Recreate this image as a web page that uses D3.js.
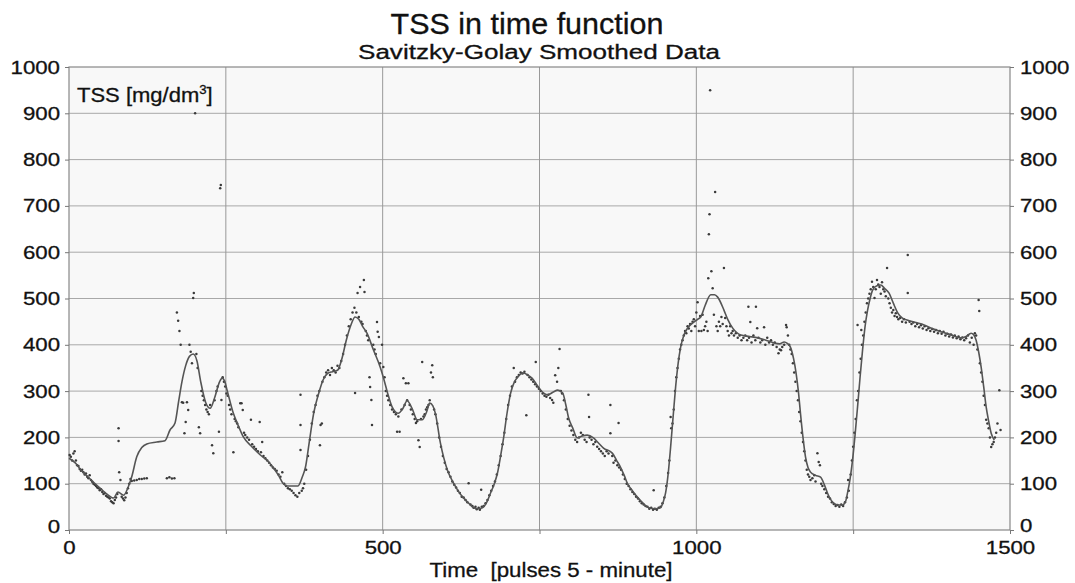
<!DOCTYPE html>
<html>
<head>
<meta charset="utf-8">
<script src="https://cdn.jsdelivr.net/npm/d3@7"></script>
<style>
  body { margin: 0; background: #fff; }
  svg { display: block; font-family: "Liberation Sans", Arial, sans-serif; }
</style>
</head>
<body>
<div id="chart"></div>
<script>
// Savitzky-Golay smoothed curve, [time, TSS]
const smoothed = [
  [0,155],[10,145],[20,128],[30,115],[40,102],[50,90],[60,78],[71,69],[78,82],[87,75],[95,95],[100,115],
  [108,158],[116,178],[124,186],[140,190],[153,193],[161,216],[169,231],[175,280],[180,320],[186,355],
  [192,375],[198,380],[204,365],[210,320],[218,275],[225,263],[232,285],[240,320],[244,328],[248,322],
  [252,302],[262,252],[270,225],[278,201],[290,182],[305,162],[316,150],[326,134],[334,118],[341,101],
  [348,95],[365,95],[372,115],[377,136],[383,190],[390,252],[398,295],[405,324],[412,338],[420,342],
  [428,345],[435,370],[442,410],[450,445],[456,460],[462,455],[468,440],[475,425],[485,390],[496,352],
  [501,330],[508,295],[515,266],[525,252],[532,262],[539,279],[547,262],[555,238],[563,238],[570,255],
  [575,274],[580,268],[584,252],[592,188],[603,130],[613,101],[620,85],[629,69],[637,58],[645,48],
  [652,46],[659,48],[666,60],[672,80],[678,100],[683,123],[688,160],[693,201],[698,250],[704,296],
  [710,320],[715,330],[724,339],[731,335],[738,328],[745,315],[752,302],[763,292],[772,298],[779,302],
  [787,296],[792,270],[796,244],[803,220],[810,199],[818,203],[826,205],[836,199],[844,188],[852,177],
  [866,166],[873,150],[879,136],[885,118],[890,101],[898,85],[906,71],[915,58],[924,48],[935,46],
  [943,48],[947,60],[951,80],[955,120],[959,179],[963,245],[967,309],[971,360],[975,395],[980,420],
  [986,436],[996,449],[1002,455],[1007,460],[1014,485],[1023,508],[1029,508],[1034,503],[1044,475],
  [1050,455],[1058,436],[1071,421],[1085,418],[1098,415],[1111,410],[1124,404],[1133,402],[1140,406],
  [1145,403],[1150,395],[1155,370],[1159,339],[1163,295],[1166,252],[1170,200],[1174,158],[1178,135],
  [1182,125],[1190,118],[1198,114],[1204,98],[1209,80],[1214,66],[1219,58],[1226,54],[1233,54],
  [1238,62],[1241,80],[1245,110],[1249,151],[1253,205],[1257,266],[1261,330],[1265,389],[1269,440],
  [1273,475],[1277,500],[1281,518],[1287,527],[1294,529],[1300,522],[1307,512],[1314,490],[1321,469],
  [1328,458],[1337,453],[1350,448],[1363,443],[1376,435],[1390,428],[1405,422],[1422,415],[1430,418],
  [1438,425],[1442,422],[1446,410],[1450,385],[1454,352],[1458,310],[1462,266],[1466,235],[1470,209],
  [1475,194]
]

// measured points, [time, TSS]
const measured = [
  [1,162],[3,158],[5,150],[7,165],[9,170],[11,150],[13,140],[15,138],[17,132],[19,128],[21,130],[23,125],
  [25,120],[27,122],[29,115],[31,112],[33,118],[35,108],[37,104],[39,100],[41,98],[43,95],[45,92],[47,90],
  [49,86],[51,88],[53,82],[55,78],[57,80],[59,74],[61,72],[63,70],[65,68],[67,62],[69,60],[71,58],
  [73,65],[75,70],[77,78],[79,220],[79,192],[80,125],[82,108],[84,72],[86,68],[88,64],[90,70],[92,80],
  [94,90],[96,100],[98,110],[100,106],[104,107],[108,108],[112,110],[116,110],[120,111],[124,112],
  [156,112],[160,114],[164,111],[168,112],
  [172,470],[174,452],[176,430],[178,400],[180,276],[182,275],[184,209],[186,233],[188,276],[190,259],
  [192,400],[194,385],[196,360],[198,501],[199,512],[201,900],[203,380],[205,350],[207,222],[209,209],
  [211,300],[213,290],[215,280],[217,270],[219,260],[221,255],[223,250],[225,270],[228,183],[230,166],
  [232,280],[235,300],[237,310],[239,212],[241,738],[242,745],[243,281],[245,330],[247,320],[249,310],
  [251,295],[253,290],[255,270],[257,260],[259,250],[262,168],[264,240],[266,235],[268,230],[270,222],
  [273,274],[275,274],[277,259],[279,210],[281,205],[284,200],[287,195],[290,238],[292,185],[295,180],
  [298,175],[301,170],[304,233],[306,168],[308,190],[310,160],[313,155],[316,150],[319,145],[322,140],
  [325,135],[328,132],[331,128],[334,120],[337,115],[340,125],[343,100],[346,95],[349,90],[352,88],
  [355,85],[358,80],[361,75],[364,72],[367,80],[369,292],[369,227],[369,173],[371,85],[373,90],[375,100],
  [378,130],[381,160],[384,195],[387,230],[390,255],[393,270],[396,290],[399,300],[401,227],[403,230],
  [400,183],[404,320],[407,330],[410,340],[413,345],[416,335],[419,350],[422,345],[425,340],[428,355],
  [431,350],[434,365],[437,380],[440,400],[443,420],[446,440],[449,455],[452,470],[455,480],[456,296],
  [458,470],[460,512],[462,460],[464,525],[466,450],[468,445],[470,540],[471,514],[473,430],[475,420],
  [477,410],[479,330],[480,309],[482,281],[483,227],[485,400],[487,390],[489,380],[491,449],[492,428],
  [494,417],[496,360],[499,400],[501,352],[503,330],[505,300],[507,290],[509,280],[512,270],[515,260],
  [518,255],[521,250],[523,212],[525,245],[527,212],[530,260],[533,328],[535,270],[537,317],[539,280],
  [541,317],[543,270],[545,260],[548,250],[551,240],[553,231],[555,235],[557,194],[559,179],[561,240],
  [563,363],[565,245],[567,250],[569,260],[571,265],[573,270],[575,280],[577,340],[579,356],[580,330],
  [582,260],[584,250],[587,230],[590,200],[593,180],[596,160],[599,145],[602,132],[605,125],[608,115],
  [611,105],[614,98],[617,92],[620,85],[623,80],[626,72],[629,70],[632,65],[635,60],[637,101],[640,55],
  [643,52],[645,48],[648,50],[650,45],[653,48],[655,44],[657,87],[658,50],[661,52],[664,58],[667,65],
  [670,75],[673,85],[676,95],[679,105],[682,120],[685,140],[688,160],[691,185],[694,210],[697,240],
  [700,270],[703,290],[706,310],[709,350],[711,320],[714,330],[717,335],[720,340],[723,338],[726,342],
  [729,248],[731,335],[734,330],[737,325],[740,320],[743,315],[744,363],[746,310],[749,305],[752,300],
  [755,295],[758,290],[761,288],[764,292],[767,285],[770,281],[772,275],[775,334],[778,320],[780,350],
  [782,391],[784,300],[786,295],[789,280],[792,260],[795,240],[798,225],[801,215],[804,205],[807,195],
  [810,190],[813,200],[816,210],[819,205],[822,195],[825,190],[828,292],[829,244],[830,200],[833,195],
  [836,185],[839,190],[842,180],[845,175],[848,170],[851,165],[854,160],[857,170],[860,165],[863,270],
  [863,209],[866,160],[868,145],[871,150],[874,140],[876,231],[877,135],[880,130],[883,120],[886,110],
  [889,100],[892,95],[895,88],[898,82],[901,78],[904,72],[907,68],[910,62],[913,58],[916,55],[919,52],
  [922,50],[925,46],[928,48],[931,44],[932,86],[934,46],[937,44],[940,48],[943,50],[946,58],[949,70],
  [952,95],[955,123],[957,150],[959,244],[960,220],[962,230],[964,260],[966,300],[968,330],[970,350],
  [972,370],[974,390],[976,400],[978,410],[980,420],[982,430],[984,425],[986,440],[988,435],[990,445],
  [992,430],[994,450],[996,455],[998,440],[1000,470],[1002,492],[1004,430],[1006,462],[1008,430],
  [1010,465],[1012,432],[1014,440],[1016,450],[1018,430],[1019,544],[1020,639],[1021,682],[1022,950],
  [1024,559],[1026,522],[1028,465],[1030,730],[1032,440],[1034,430],[1036,450],[1038,440],[1040,460],
  [1042,445],[1044,566],[1046,458],[1048,440],[1050,430],[1052,420],[1054,440],[1056,425],[1058,430],
  [1060,420],[1063,425],[1066,415],[1069,420],[1072,410],[1075,415],[1078,420],[1081,410],[1083,482],
  [1084,415],[1086,449],[1088,405],[1091,420],[1094,410],[1095,482],[1097,436],[1099,415],[1102,405],
  [1105,410],[1108,438],[1110,400],[1113,415],[1116,405],[1119,410],[1122,400],[1125,405],[1128,395],
  [1131,382],[1133,390],[1135,388],[1137,395],[1140,400],[1143,443],[1144,438],[1146,420],[1148,400],
  [1150,390],[1152,380],[1154,360],[1156,340],[1158,320],[1160,300],[1162,280],[1164,255],[1166,235],
  [1168,210],[1170,190],[1172,170],[1174,150],[1176,130],[1178,120],[1180,115],[1182,108],[1185,112],
  [1188,118],[1190,105],[1193,166],[1195,147],[1197,140],[1199,100],[1201,95],[1204,88],[1207,80],
  [1210,72],[1213,68],[1216,60],[1219,56],[1222,52],[1225,54],[1228,50],[1231,55],[1234,52],[1237,60],
  [1240,70],[1242,108],[1243,85],[1246,120],[1248,150],[1250,180],[1252,210],[1254,240],[1256,280],
  [1257,443],[1258,300],[1260,340],[1262,370],[1263,432],[1264,400],[1266,420],[1268,450],[1270,470],
  [1272,490],[1274,500],[1276,510],[1278,520],[1280,536],[1282,525],[1284,501],[1286,520],[1288,540],
  [1290,530],[1292,525],[1294,510],[1296,535],[1298,520],[1300,515],[1302,505],[1304,566],[1306,500],
  [1308,490],[1310,480],[1312,470],[1314,475],[1316,462],[1318,468],[1320,460],[1322,455],[1325,458],
  [1328,450],[1331,455],[1334,448],[1337,594],[1337,512],[1340,450],[1343,445],[1346,448],[1349,440],
  [1352,445],[1355,438],[1358,442],[1361,435],[1364,440],[1367,432],[1370,436],[1373,430],[1376,434],
  [1379,428],[1382,432],[1385,425],[1388,430],[1391,424],[1394,428],[1397,420],[1400,424],[1403,418],
  [1406,422],[1409,416],[1412,420],[1415,414],[1418,418],[1421,412],[1424,416],[1427,410],[1430,414],
  [1433,420],[1436,405],[1439,415],[1442,400],[1444,425],[1446,420],[1448,390],[1450,497],[1451,473],
  [1452,360],[1454,340],[1456,320],[1458,290],[1460,270],[1462,238],[1464,230],[1466,220],[1468,200],
  [1470,179],[1472,185],[1474,190],[1476,200],[1478,210],[1480,230],[1483,302],[1485,216]
]

const xTicks = [0, 500, 1000, 1500]
const xGrid = [250, 500, 750, 1000, 1250]
const yTicks = [0, 100, 200, 300, 400, 500, 600, 700, 800, 900, 1000]

const width = 1075
const height = 583
const margin = { top: 67, right: 65, bottom: 53, left: 69 }
const iw = width - margin.left - margin.right
const ih = height - margin.top - margin.bottom

const svg = d3.select('#chart')
  .append('svg')
  .attr('width', width)
  .attr('height', height)

const x = d3.scaleLinear().domain([0, 1500]).range([margin.left, margin.left + iw])
const y = d3.scaleLinear().domain([0, 1000]).range([margin.top + ih, margin.top])

// the scanned original has slightly wide lettering
const stretch = (sel, k) => sel.each(function () {
  const len = this.getComputedTextLength()
  d3.select(this).attr('textLength', len * k).attr('lengthAdjust', 'spacingAndGlyphs')
})

// plot background
svg.append('rect')
  .attr('x', x(0)).attr('y', y(1000))
  .attr('width', iw).attr('height', ih)
  .attr('fill', '#f8f8f8')

// grid
svg.append('g')
  .selectAll('line')
  .data(yTicks.slice(1, -1))
  .join('line')
  .attr('x1', x(0)).attr('x2', x(1500))
  .attr('y1', d => y(d)).attr('y2', d => y(d))
  .attr('stroke', '#a8a8a8')
  .attr('stroke-width', 1)

svg.append('g')
  .selectAll('line')
  .data(xGrid)
  .join('line')
  .attr('x1', d => x(d)).attr('x2', d => x(d))
  .attr('y1', y(0)).attr('y2', y(1000))
  .attr('stroke', '#999')
  .attr('stroke-width', 1)

// frame
svg.append('rect')
  .attr('x', x(0)).attr('y', y(1000))
  .attr('width', iw).attr('height', ih)
  .attr('fill', 'none')
  .attr('stroke', '#888')
  .attr('stroke-width', 1.2)

// axes
const leftAxis = svg.append('g')
  .attr('transform', `translate(${x(0)},0)`)
  .call(d3.axisLeft(y).tickValues(yTicks).tickSize(4).tickPadding(5).tickFormat(d3.format('d')))
const rightAxis = svg.append('g')
  .attr('transform', `translate(${x(1500)},0)`)
  .call(d3.axisRight(y).tickValues(yTicks).tickSize(4).tickPadding(6).tickFormat(d3.format('d')))
const bottomAxis = svg.append('g')
  .attr('transform', `translate(0,${y(0)})`)
  .call(d3.axisBottom(x).tickValues(d3.range(0, 1501, 250)).tickSize(4).tickPadding(7)
    .tickFormat(d => xTicks.includes(d) ? d : ''))

;[leftAxis, rightAxis, bottomAxis].forEach(g => {
  g.select('.domain').remove()
  g.selectAll('.tick line').attr('stroke', '#777')
  g.selectAll('text')
    .attr('fill', '#111')
    .attr('stroke', '#111')
    .attr('stroke-width', 0.3)
    .style('font-size', '19px')
    .style('font-family', '"Liberation Sans", Arial, sans-serif')
  stretch(g.selectAll('text').filter(function () { return this.textContent !== '' }), 1.17)
})
// the zero labels sit a little above the base line
leftAxis.selectAll('.tick').filter(d => d === 0).select('text').attr('y', -4)
rightAxis.selectAll('.tick').filter(d => d === 0).select('text').attr('y', -5)

// measured dots
svg.append('g')
  .selectAll('circle')
  .data(measured)
  .join('circle')
  .attr('cx', d => x(d[0]))
  .attr('cy', d => y(d[1]))
  .attr('r', 1.25)
  .attr('fill', '#3a3a3a')

// smoothed line
const line = d3.line()
  .x(d => x(d[0]))
  .y(d => y(d[1]))
  .curve(d3.curveMonotoneX)

svg.append('path')
  .datum(smoothed)
  .attr('d', line)
  .attr('fill', 'none')
  .attr('stroke', '#555')
  .attr('stroke-width', 1.6)

// titles
svg.append('text')
  .attr('x', 527).attr('y', 34)
  .attr('text-anchor', 'middle')
  .style('font-size', '29px')
  .attr('fill', '#111')
  .attr('stroke', '#111').attr('stroke-width', 0.3)
  .attr('textLength', 273).attr('lengthAdjust', 'spacingAndGlyphs')
  .text('TSS in time function')

svg.append('text')
  .attr('x', 539).attr('y', 59)
  .attr('text-anchor', 'middle')
  .style('font-size', '20px')
  .attr('fill', '#111')
  .attr('stroke', '#111').attr('stroke-width', 0.3)
  .attr('textLength', 362).attr('lengthAdjust', 'spacingAndGlyphs')
  .text('Savitzky-Golay Smoothed Data')

const yl = svg.append('text')
  .attr('transform', 'translate(77,102) scale(1.1,1)')
  .style('font-size', '20px')
  .attr('fill', '#111')
  .attr('stroke', '#111').attr('stroke-width', 0.3)
yl.append('tspan').text('TSS [mg/dm')
yl.append('tspan').attr('dy', -8).style('font-size', '12px').text('3')
yl.append('tspan').attr('dy', 8).text(']')

svg.append('text')
  .attr('x', 551).attr('y', 577)
  .attr('text-anchor', 'middle')
  .style('font-size', '20.5px')
  .attr('fill', '#111')
  .attr('stroke', '#111').attr('stroke-width', 0.3)
  .attr('xml:space', 'preserve')
  .attr('textLength', 243).attr('lengthAdjust', 'spacingAndGlyphs')
  .text('Time  [pulses 5 - minute]')
</script>
</body>
</html>
